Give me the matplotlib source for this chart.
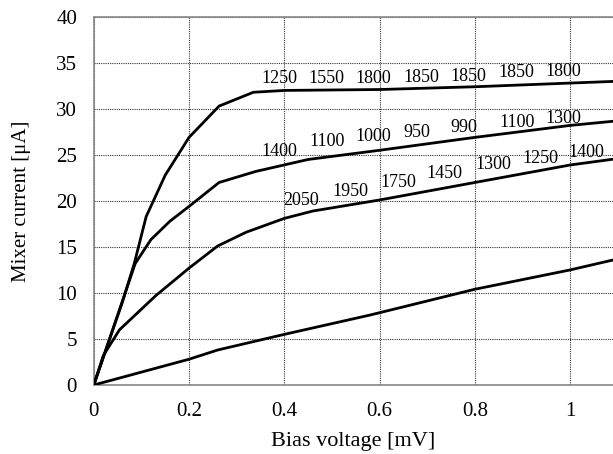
import matplotlib
matplotlib.use("Agg")
import matplotlib.pyplot as plt

plt.rcParams['font.family'] = ['Liberation Serif', 'DejaVu Serif']

# curve vertices (bias voltage in mV, current in uA)
top_v = [0, 0.06, 0.085, 0.11, 0.15, 0.2, 0.263, 0.335, 0.4, 0.6, 0.8, 1.0, 1.1]
top_i = [0, 9.0, 13.2, 18.3, 22.8, 26.9, 30.3, 31.8, 32.0, 32.1, 32.4, 32.8, 33.0]

mid_v = [0, 0.087, 0.12, 0.16, 0.2, 0.263, 0.34, 0.45, 0.6, 0.8, 1.0, 1.1]
mid_i = [0, 13.2, 15.8, 17.8, 19.4, 22.0, 23.2, 24.5, 25.5, 26.9, 28.2, 28.7]

low_v = [0, 0.02, 0.054, 0.13, 0.2, 0.26, 0.32, 0.4, 0.46, 0.6, 0.8, 1.0, 1.1]
low_i = [0, 3.2, 6.0, 9.7, 12.7, 15.1, 16.6, 18.1, 18.9, 20.1, 22.0, 23.9, 24.6]

dark_v = [0, 0.2, 0.26, 0.4, 0.58, 0.8, 1.0, 1.1]
dark_i = [0, 2.8, 3.8, 5.5, 7.6, 10.4, 12.5, 13.7]

# annotation numbers along each curve
top_labels = ['1250', '1550', '1800', '1850', '1850', '1850', '1800']
top_lx = [0.389, 0.489, 0.587, 0.688, 0.786, 0.888, 0.986]
top_ly = [33.3, 33.3, 33.3, 33.4, 33.5, 34.0, 34.05]

mid_labels = ['1400', '1100', '1000', '950', '990', '1100', '1300']
mid_lx = [0.389, 0.489, 0.587, 0.678, 0.776, 0.888, 0.986]
mid_ly = [25.4, 26.5, 27.0, 27.4, 28.0, 28.55, 29.0]

low_labels = ['2050', '1950', '1750', '1450', '1300', '1250', '1400']
low_lx = [0.436, 0.538, 0.639, 0.737, 0.839, 0.937, 1.035]
low_ly = [20.0, 21.0, 22.0, 22.95, 23.9, 24.6, 25.3]

fig = plt.figure(figsize=(6.13, 4.54), dpi=100)
ax = fig.add_axes([0.153, 0.152, 0.847, 0.811])

for v, i in [(top_v, top_i), (mid_v, mid_i), (low_v, low_i), (dark_v, dark_i)]:
    ax.plot(v, i, color='black', lw=2.0, solid_joinstyle='miter', zorder=3)

for labs, xs, ys in [(top_labels, top_lx, top_ly), (mid_labels, mid_lx, mid_ly),
                     (low_labels, low_lx, low_ly)]:
    for t, x, y in zip(labs, xs, ys):
        ax.text(x, y, t, ha='center', va='center', fontsize=13, zorder=4)

ax.set_xlim(0, 1.09)
ax.set_ylim(0, 40)
ax.set_xticks([0, 0.2, 0.4, 0.6, 0.8, 1.0])
ax.set_xticklabels(['0', '0.2', '0.4', '0.6', '0.8', '1'])
ax.set_yticks(range(0, 41, 5))
ax.tick_params(length=0, labelsize=15)
ax.tick_params(axis='x', pad=12)
ax.tick_params(axis='y', pad=12)
ax.grid(True, color='#333333', linestyle=(0, (1, 1)), linewidth=0.8)
ax.set_axisbelow(True)
for s in ['left', 'bottom', 'top']:
    ax.spines[s].set_color('#888888')
    ax.spines[s].set_linewidth(1.2)
ax.spines['right'].set_visible(False)

ax.set_xlabel('Bias voltage [mV]', fontsize=16, labelpad=8)
ax.set_ylabel('Mixer current [μA]', fontsize=15, labelpad=18)

fig.savefig('out.png', dpi=100)
